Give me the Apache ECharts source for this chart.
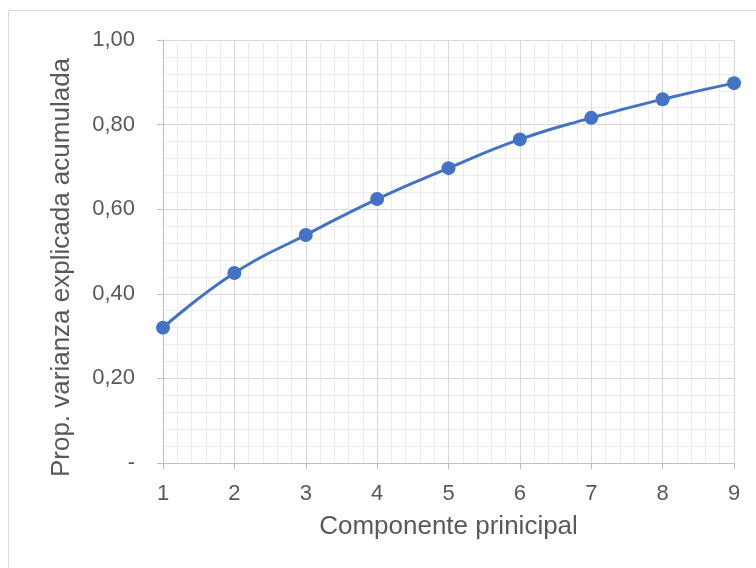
<!DOCTYPE html>
<html>
<head>
<meta charset="utf-8">
<script src="https://cdn.jsdelivr.net/npm/echarts@6/dist/echarts.min.js"></script>
<style>html,body{margin:0;padding:0;background:#fff}#c{width:756px;height:568px}</style>
</head>
<body>
<div id="c"></div>
<script>
var components = [1, 2, 3, 4, 5, 6, 7, 8, 9];
var cumVariance = [0.320, 0.449, 0.539, 0.624, 0.697, 0.765, 0.816, 0.860, 0.898];
var xAxisTitle = 'Componente prinicipal';
var yAxisTitle = 'Prop. varianza explicada acumulada';

var chart = echarts.init(document.getElementById('c'), null, {renderer: 'canvas'});
var font = 'Liberation Sans, Arial, sans-serif';
var textColor = '#595959';
chart.setOption({
  animation: false,
  backgroundColor: '#fff',
  graphic: [{
    type: 'rect', silent: true, z: -10,
    shape: {x: 8.5, y: 10.5, width: 800, height: 600},
    style: {fill: 'none', stroke: '#d9d9d9', lineWidth: 1}
  }],
  grid: {left: 163, right: 22, top: 40, bottom: 105, containLabel: false},
  xAxis: {
    type: 'value', min: 1, max: 9, interval: 1,
    name: xAxisTitle, nameLocation: 'middle', nameGap: 51,
    nameTextStyle: {fontFamily: font, fontSize: 26, color: textColor},
    axisLine: {show: true, lineStyle: {color: '#bfbfbf', width: 1}},
    axisTick: {show: true, length: 6, lineStyle: {color: '#bfbfbf'}},
    axisLabel: {fontFamily: font, fontSize: 22, color: textColor, margin: 20},
    splitLine: {show: true, lineStyle: {color: '#d9d9d9', width: 1}},
    minorTick: {show: false, splitNumber: 5},
    minorSplitLine: {show: true, lineStyle: {color: '#ececec', width: 1}}
  },
  yAxis: {
    type: 'value', min: 0, max: 1, interval: 0.2,
    name: yAxisTitle, nameLocation: 'middle', nameGap: 88, nameRotate: 90,
    nameTextStyle: {fontFamily: font, fontSize: 26, color: textColor, padding: [0, 32, 0, 0]},
    axisLine: {show: true, lineStyle: {color: '#bfbfbf', width: 1}},
    axisTick: {show: true, length: 6, lineStyle: {color: '#bfbfbf'}},
    axisLabel: {
      fontFamily: font, fontSize: 22, color: textColor, margin: 28,
      formatter: function (v) { return v === 0 ? '-' : v.toFixed(2).replace('.', ','); }
    },
    splitLine: {show: true, lineStyle: {color: '#d9d9d9', width: 1}},
    minorTick: {show: false, splitNumber: 5},
    minorSplitLine: {show: true, lineStyle: {color: '#ececec', width: 1}}
  },
  series: [{
    type: 'line',
    data: components.map(function (c, i) { return [c, cumVariance[i]]; }),
    smooth: 0.5,
    symbol: 'circle', symbolSize: 14,
    lineStyle: {color: '#4472C4', width: 3},
    itemStyle: {color: '#4472C4'},
    clip: false
  }]
});
</script>
</body>
</html>
